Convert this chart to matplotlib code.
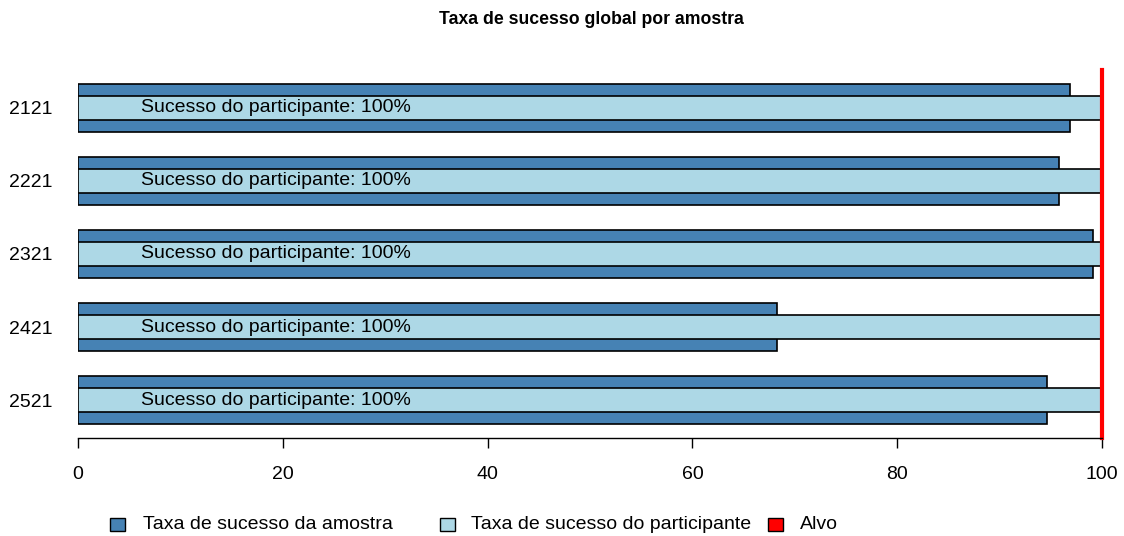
import matplotlib
matplotlib.use('Agg')
import matplotlib.pyplot as plt
from matplotlib.patches import Rectangle
import numpy as np

plt.rcParams['font.family'] = ['Liberation Sans', 'DejaVu Sans']

amostras = ['2121', '2221', '2321', '2421', '2521']
taxa_amostra = [96.9, 95.8, 99.1, 68.3, 94.6]
taxa_participante = [100, 100, 100, 100, 100]
alvo = 100
rotulo = 'Sucesso do participante: 100%'

cor_amostra = '#4682B4'
cor_part = '#ADD8E6'

fig = plt.figure(figsize=(11.24, 5.36), dpi=100)
ax = fig.add_axes([78 / 1124, 1 - 438 / 536, 1024 / 1124, 368 / 536])

y = np.arange(len(amostras))[::-1]
ax.barh(y, taxa_amostra, height=0.66, color=cor_amostra, edgecolor='black', linewidth=1.2)
ax.barh(y, taxa_participante, height=0.33, color=cor_part, edgecolor='black', linewidth=1.2)
for yi in y:
    ax.text(6.2, yi, rotulo, ha='left', va='center', fontsize=14)
ax.axvline(alvo, color='red', linewidth=3, clip_on=False)

ax.set_xlim(0, 100)
ax.set_ylim(-0.52, len(amostras) - 0.48)
ax.set_yticks(y)
ax.set_yticklabels(amostras, fontsize=14)
ax.tick_params(axis='y', length=0, pad=18.5)
ax.set_xticks([0, 20, 40, 60, 80, 100])
ax.tick_params(axis='x', length=7, width=1, labelsize=14, pad=13)
for s in ['top', 'right', 'left']:
    ax.spines[s].set_visible(False)
ax.spines['bottom'].set_bounds(0, 100)
ax.spines['bottom'].set_linewidth(1)

fig.text(591 / 1124, 1 - 20 / 536, 'Taxa de sucesso global por amostra',
         ha='center', va='center', fontsize=12.7, fontweight='bold')

# legenda
itens = [('Taxa de sucesso da amostra', cor_amostra, 110, 143),
         ('Taxa de sucesso do participante', cor_part, 440, 471),
         ('Alvo', 'red', 768, 800)]
yl = 524.5
for txt, cor, xq, xt in itens:
    fig.patches.append(Rectangle((xq / 1124, 1 - (yl + 6.5) / 536), 15 / 1124, 13 / 536,
                                 transform=fig.transFigure, facecolor=cor,
                                 edgecolor='black', linewidth=1))
    fig.text(xt / 1124, 1 - yl / 536, txt, ha='left', va='center', fontsize=14)

fig.savefig('out.png', dpi=100)
